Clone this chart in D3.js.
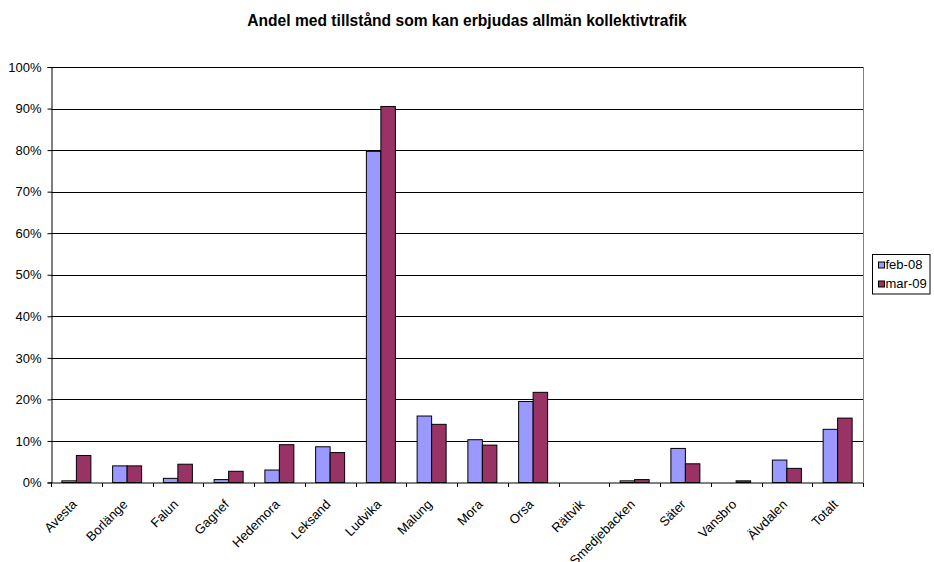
<!DOCTYPE html>
<html>
<head>
<meta charset="utf-8">
<script src="https://cdn.jsdelivr.net/npm/d3@7"></script>
<style>
  body { margin: 0; background: #fff; }
  text { font-family: "Liberation Sans", Arial, sans-serif; fill: #000; }
</style>
</head>
<body>
<svg id="chart" width="934" height="562"></svg>
<script>
const categories = ['Avesta', 'Borlänge', 'Falun', 'Gagnef', 'Hedemora', 'Leksand', 'Ludvika', 'Malung',
  'Mora', 'Orsa', 'Rättvik', 'Smedjebacken', 'Säter', 'Vansbro', 'Älvdalen', 'Totalt']
const seriesNames = ['feb-08', 'mar-09']
const feb08 = [0.4, 4.0, 1.0, 0.7, 3.0, 8.6, 79.7, 16.0, 10.3, 19.5, 0, 0.4, 8.2, 0, 5.4, 12.8]
const mar09 = [6.5, 4.0, 4.4, 2.7, 9.1, 7.2, 90.5, 14.0, 9.0, 21.7, 0, 0.7, 4.5, 0.4, 3.4, 15.5]
const yTicks = [0, 10, 20, 30, 40, 50, 60, 70, 80, 90, 100]
const colors = ['#9999ff', '#993366']

const svg = d3.select('#chart')
const plotLeft = 51, plotRight = 863, plotTop = 67, plotBottom = 482.5

const x = d3.scaleBand().domain(categories).range([plotLeft, plotRight]).paddingInner(0).paddingOuter(0)
const bw = x.bandwidth() / 3.5
const y = d3.scaleLinear().domain([0, 100]).range([plotBottom, plotTop])

svg.append('text')
  .attr('x', 467).attr('y', 26)
  .attr('text-anchor', 'middle')
  .style('font-size', '15.6px').style('font-weight', 'bold')
  .text('Andel med tillstånd som kan erbjudas allmän kollektivtrafik')

// gridlines
svg.append('g').selectAll('line').data(yTicks.slice(1)).join('line')
  .attr('x1', plotLeft).attr('x2', plotRight)
  .attr('y1', d => Math.round(y(d)) + 0.5).attr('y2', d => Math.round(y(d)) + 0.5)
  .attr('stroke', '#000').attr('stroke-width', 1)

// plot area right border
svg.append('line')
  .attr('x1', plotRight + 0.5).attr('x2', plotRight + 0.5)
  .attr('y1', plotTop).attr('y2', plotBottom)
  .attr('stroke', '#808080')

// bars
const series = [feb08, mar09]
series.forEach((vals, si) => {
  svg.append('g').selectAll('rect').data(vals).join('rect')
    .attr('x', (d, i) => x(categories[i]) + bw * 0.75 + si * bw)
    .attr('y', d => y(d))
    .attr('width', bw)
    .attr('height', d => plotBottom - y(d))
    .attr('fill', colors[si])
    .attr('stroke', '#000').attr('stroke-width', 1)
})

// y axis
const yAxis = svg.append('g').attr('transform', `translate(${plotLeft + 0.5},0)`)
  .call(d3.axisLeft(y).tickValues(yTicks).tickSize(4).tickFormat(d => d + '%'))
yAxis.select('.domain').attr('stroke', '#000')
yAxis.selectAll('line').attr('stroke', '#000')
yAxis.selectAll('text').style('font-size', '13px').attr('x', -10)

// x axis
const xAxis = svg.append('g').attr('transform', `translate(0,${plotBottom + 0.5})`)
xAxis.append('line').attr('x1', plotLeft).attr('x2', plotRight + 0.5).attr('stroke', '#000')
xAxis.selectAll('line.tick').data(d3.range(categories.length + 1)).join('line')
  .attr('class', 'tick')
  .attr('x1', i => Math.round(plotLeft + i * x.bandwidth()) + 0.5)
  .attr('x2', i => Math.round(plotLeft + i * x.bandwidth()) + 0.5)
  .attr('y1', 0).attr('y2', 4)
  .attr('stroke', '#000')
xAxis.selectAll('text').data(categories).join('text')
  .attr('transform', d => `translate(${x(d) + x.bandwidth() / 2 - 2},${19}) rotate(-45)`)
  .attr('text-anchor', 'end')
  .attr('dy', '0.35em')
  .style('font-size', '13px')
  .text(d => d)

// legend
const lg = svg.append('g').attr('transform', 'translate(872.5,254.5)')
lg.append('rect').attr('width', 57.5).attr('height', 39.5).attr('fill', '#fff').attr('stroke', '#000')
seriesNames.forEach((name, i) => {
  lg.append('rect').attr('x', 6).attr('y', 7.5 + i * 19).attr('width', 6).attr('height', 6)
    .attr('fill', colors[i]).attr('stroke', '#000')
  lg.append('text').attr('x', 13).attr('y', 14 + i * 19).style('font-size', '13px').text(name)
})
</script>
</body>
</html>
